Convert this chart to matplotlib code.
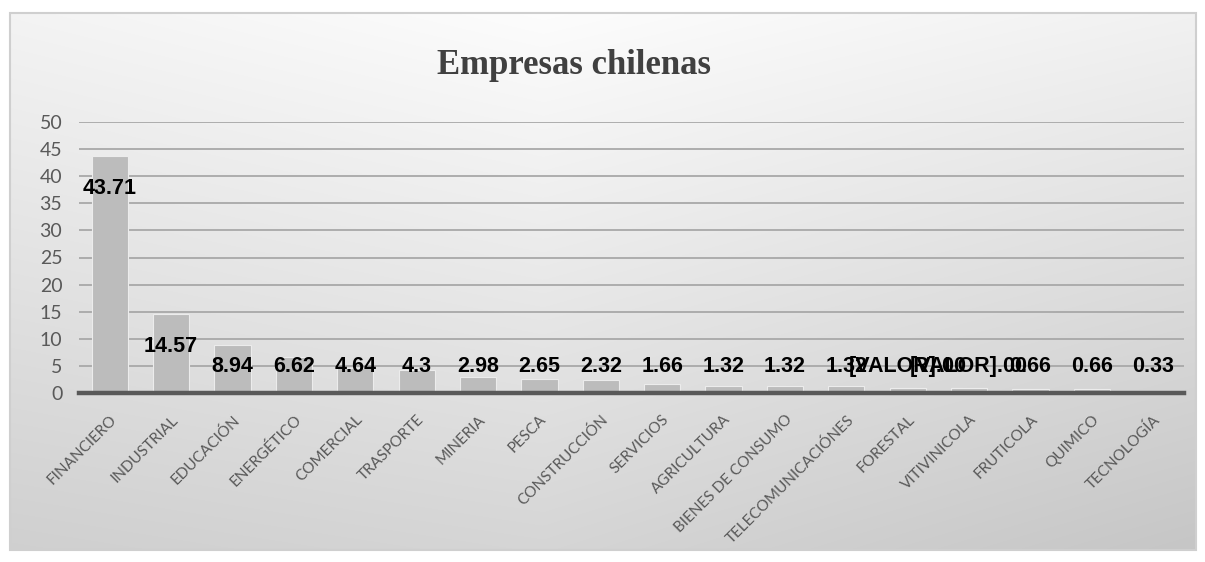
import numpy as np
import matplotlib.pyplot as plt
from matplotlib.patches import Rectangle

# chart data
categories = ['FINANCIERO', 'INDUSTRIAL', 'EDUCACIÓN', 'ENERGÉTICO', 'COMERCIAL',
              'TRASPORTE', 'MINERIA', 'PESCA', 'CONSTRUCCIÓN', 'SERVICIOS',
              'AGRICULTURA', 'BIENES DE CONSUMO', 'TELECOMUNICACIÓNES', 'FORESTAL',
              'VITIVINICOLA', 'FRUTICOLA', 'QUIMICO', 'TECNOLOGÍA']
values = [43.71, 14.57, 8.94, 6.62, 4.64, 4.3, 2.98, 2.65, 2.32, 1.66,
          1.32, 1.32, 1.32, 0.99, 0.99, 0.66, 0.66, 0.33]
value_labels = ['43.71', '14.57', '8.94', '6.62', '4.64', '4.3', '2.98', '2.65', '2.32',
                '1.66', '1.32', '1.32', '1.32', '[VALOR].00', '[VALOR].00', '0.66',
                '0.66', '0.33']
y_ticks = [0, 5, 10, 15, 20, 25, 30, 35, 40, 45, 50]

W, H = 1205, 562
fig = plt.figure(figsize=(W / 100, H / 100), dpi=100)
fig.patch.set_facecolor('white')

# background panel with soft gradient, light at the top, darker at the bottom
bg = fig.add_axes([10 / W, 1 - 550 / H, 1186 / W, 537 / H])
gx, gy = np.meshgrid(np.linspace(0, 1, 400), np.linspace(0, 1, 250))
shade = 0.99 - 0.14 * gy - 0.08 * np.abs(gx - 0.45) - 0.03 * gx * gy
img = np.dstack([shade, shade, shade])
bg.imshow(img, aspect='auto', extent=[0, 1, 0, 1], origin='upper',
          interpolation='bilinear')
bg.add_patch(Rectangle((0, 0), 1, 1, transform=bg.transAxes, fill=False,
                       edgecolor='#cfcfcf', lw=1.5, clip_on=False))
bg.set_axis_off()

ax = fig.add_axes([79 / W, 1 - 393 / H, 1105 / W, 271 / H])
ax.set_facecolor('none')

x = np.arange(len(categories))
ax.bar(x, values, width=0.59, color='#bcbcbc', edgecolor='#ececec', lw=0.8, zorder=2)

for xi, v, lab in zip(x, values, value_labels):
    ax.text(xi, max(v - 5.9, 4.8), lab, ha='center', va='center',
            fontsize=15.5, fontweight='bold', family='Liberation Sans', color='black',
            zorder=4)

ax.set_xlim(-0.5, len(categories) - 0.5)
ax.set_ylim(0, 50)
ax.set_yticks(y_ticks)
ax.set_yticklabels([str(t) for t in y_ticks], family='Lato', fontsize=14,
                   color='#595959')
ax.set_xticks(x)
ax.set_xticklabels(categories, rotation=45, ha='right', rotation_mode='anchor',
                   family='Lato', fontsize=11, color='#595959')
ax.tick_params(axis='both', length=0)
ax.tick_params(axis='x', pad=14)
ax.tick_params(axis='y', pad=12)

ax.grid(axis='y', color='#a8a8a8', lw=1.3, zorder=1)
ax.set_axisbelow(True)
for s in ['top', 'right', 'left']:
    ax.spines[s].set_visible(False)
ax.spines['bottom'].set_color('#595959')
ax.spines['bottom'].set_linewidth(3.2)
ax.spines['bottom'].set_zorder(3)

fig.text(574 / W, 1 - 66 / H, 'Empresas chilenas', ha='center', va='center',
         family='Liberation Serif', fontweight='bold', fontsize=25, color='#404040')

fig.savefig('out.png', dpi=100)
